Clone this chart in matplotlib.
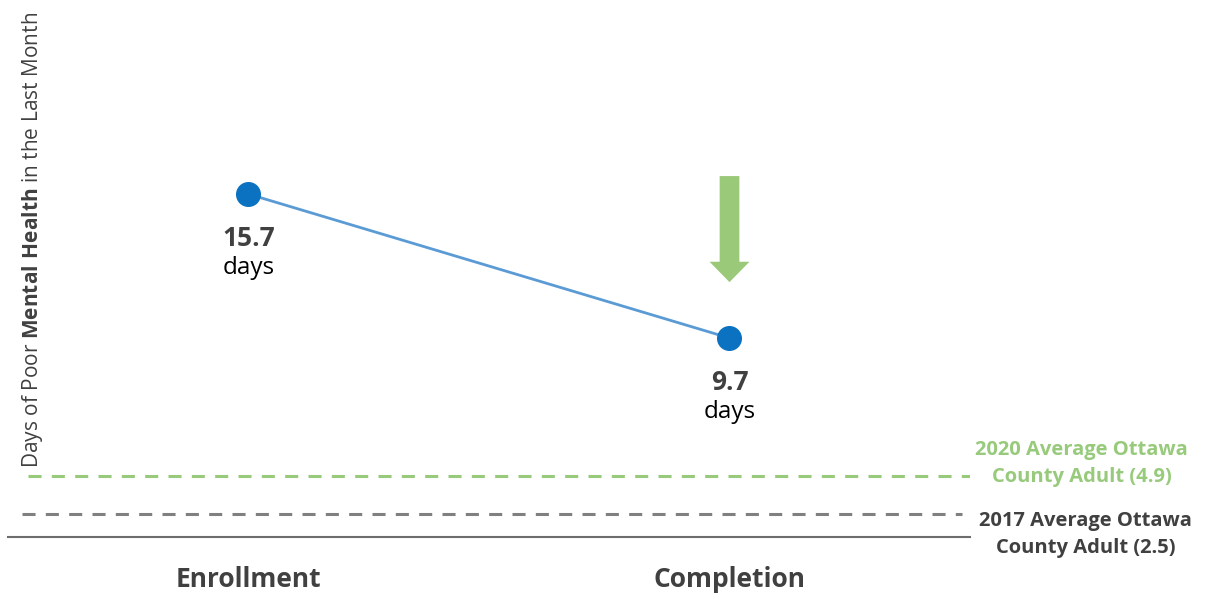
import matplotlib
matplotlib.use('Agg')
import matplotlib.pyplot as plt
from matplotlib.patches import FancyArrow

plt.rcParams['font.family'] = ['Open Sans', 'DejaVu Sans']
plt.rcParams['mathtext.fontset'] = 'custom'
plt.rcParams['mathtext.rm'] = 'Open Sans'
plt.rcParams['mathtext.bf'] = 'Open Sans:bold'
plt.rcParams['lines.scale_dashes'] = False

# data
stages = ['Enrollment', 'Completion']
days = [15.7, 9.7]
ref_values = [4.9, 2.5]
ref_labels = ['2020 Average Ottawa\nCounty Adult (4.9)', '2017 Average Ottawa\nCounty Adult (2.5)']

green = '#97CA7B'
gray = '#808080'
dark = '#404040'

fig = plt.figure(figsize=(12.09, 5.93), dpi=100)
ax = fig.add_axes([8 / 1209, 1 - 537 / 593, 962 / 1209, 527 / 593])
ax2 = ax.twinx()

x = list(range(len(stages)))
ax.plot(x, days, color='#5B9BD5', lw=2, zorder=2)
ax.plot(x, days, 'o', color='#0A72C0', ms=17, zorder=3)
ax.set_xlim(-0.5, 1.5)
ax.set_ylim(1.41, 23.37)

for xi, v in zip(x, days):
    ax.annotate(f'{v}', (xi, v), xytext=(0, -32), textcoords='offset points',
                ha='center', va='center', fontsize=19, fontweight='bold', color=dark)
    ax.annotate('days', (xi, v), xytext=(0, -53), textcoords='offset points',
                ha='center', va='center', fontsize=17.5, color='black')

# green down arrow near completion
ax.add_patch(FancyArrow(1, 16.45, 0, -4.42, width=0.041, head_width=0.083,
                        head_length=0.85, length_includes_head=True,
                        color='#9BC97A', lw=0))

# reference lines on their own scale
ax2.set_ylim(1.047, 34.34)
ax2.axhline(ref_values[0], xmin=20 / 962, xmax=1.0, color=green, lw=2.2,
            linestyle=(0, (9.4, 7.4)))
ax2.axhline(ref_values[1], xmin=14 / 962, xmax=954 / 962, color=gray, lw=2.2,
            linestyle=(0, (9.4, 7.4)))
trans = matplotlib.transforms.blended_transform_factory(ax2.transAxes, ax2.transData)
ax2.annotate(ref_labels[0], (1.116, ref_values[0]), xycoords=trans, xytext=(0, 9),
             textcoords='offset points', ha='center', va='center', fontsize=14.5,
             fontweight='bold', color=green, linespacing=1.45)
ax2.annotate(ref_labels[1], (1.12, ref_values[1]), xycoords=trans, xytext=(0, -15),
             textcoords='offset points', ha='center', va='center', fontsize=14.5,
             fontweight='bold', color=dark, linespacing=1.45)

for a in (ax, ax2):
    for s in ['top', 'right', 'left']:
        a.spines[s].set_visible(False)
    a.set_yticks([])
ax2.spines['bottom'].set_visible(False)
ax.spines['bottom'].set_color('#6D6D6D')
ax.spines['bottom'].set_linewidth(1.5)

ax.set_xticks(x)
ax.set_xticklabels(stages, fontsize=19, fontweight='bold', color=dark)
ax.tick_params(axis='x', length=0, pad=21)

fig.text(33 / 1209, 1 - 240 / 593, r'Days of Poor $\mathbf{Mental\ Health}$ in the Last Month',
         rotation=90, ha='center', va='center', fontsize=15, color=dark)

fig.savefig('out.png', dpi=100)
